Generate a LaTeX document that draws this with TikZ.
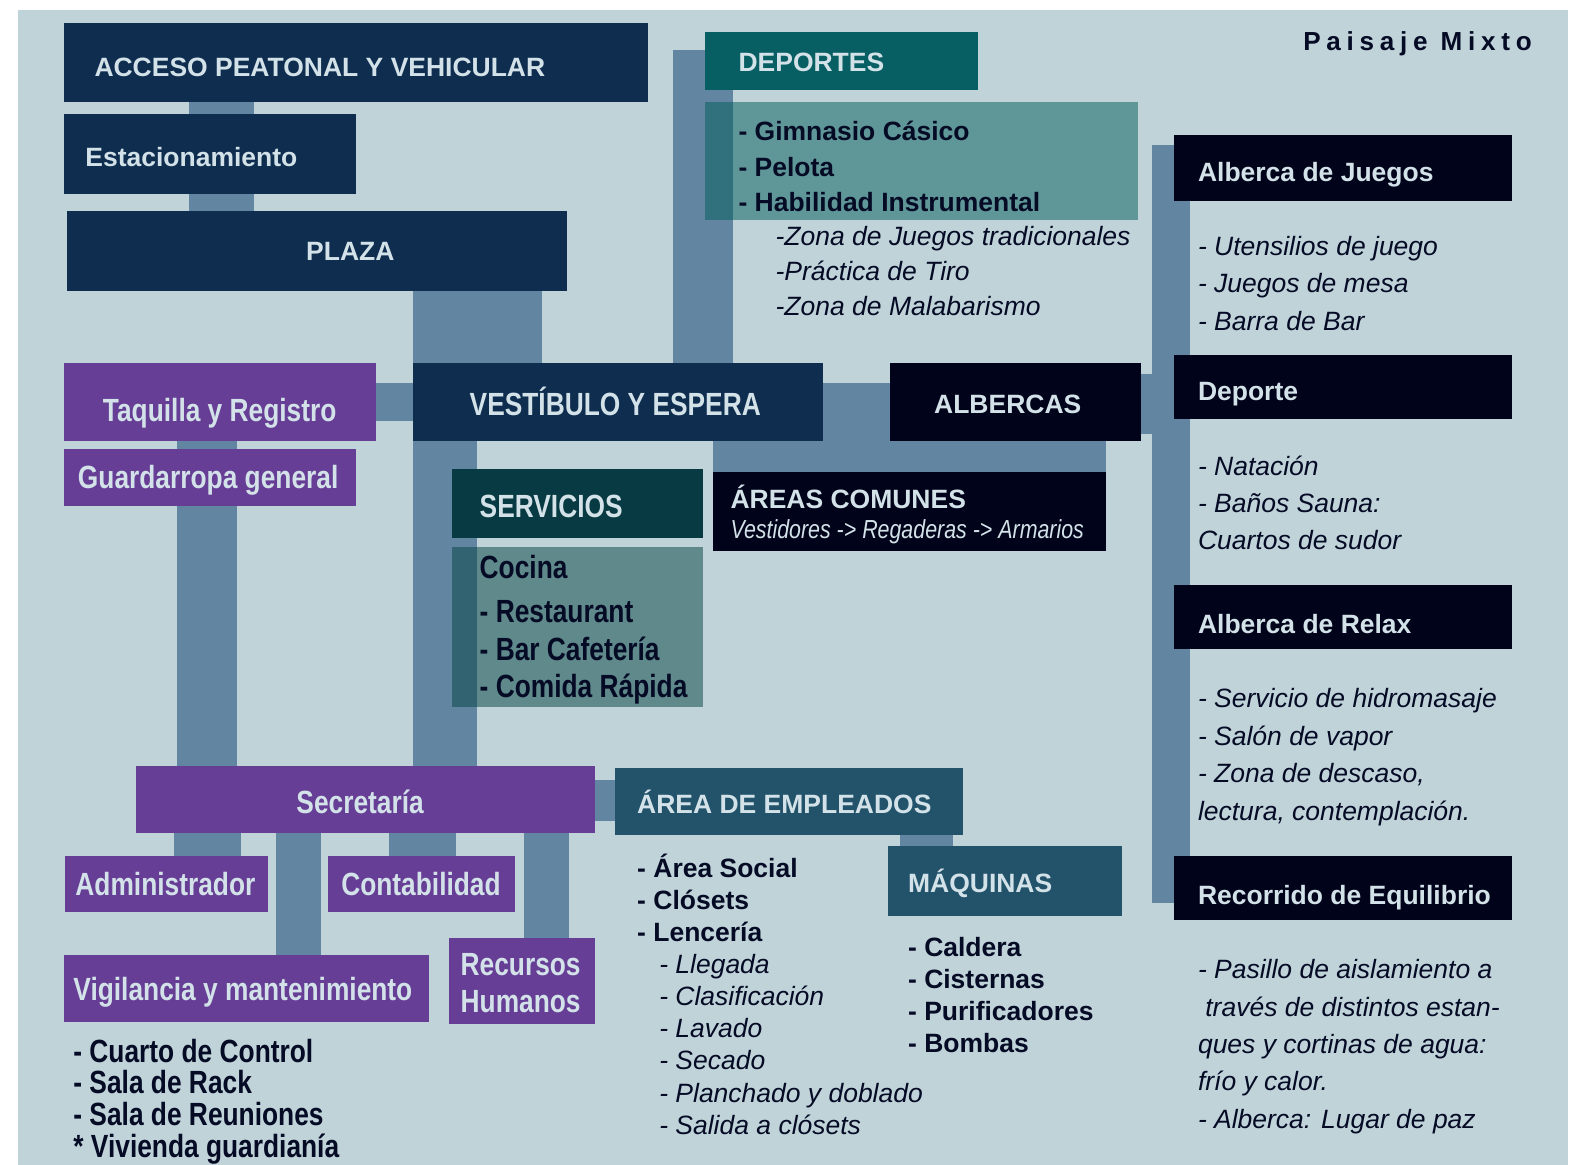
\documentclass[tikz,border=0pt]{standalone}
\usepackage{fontspec}
\setmainfont{Liberation Sans}
\newfontfamily\narrowfam[FakeStretch=0.82]{Liberation Sans}
\newfontfamily\spacedfam[LetterSpace=22]{Liberation Sans}
\usetikzlibrary{calc}
\pgfdeclarelayer{bgfill}
\pgfdeclarelayer{bars}
\pgfsetlayers{bgfill,bars,main}
\definecolor{cBg}{HTML}{BFD3D9}
\definecolor{cBar}{HTML}{6286A2}
\definecolor{cNavy}{HTML}{0E2D4F}
\definecolor{cInk}{HTML}{000319}
\definecolor{cTeal}{HTML}{075E63}
\definecolor{cTealT}{HTML}{005D59}
\definecolor{cServ}{HTML}{073A42}
\definecolor{cServT}{HTML}{01413F}
\definecolor{cPurp}{HTML}{663E96}
\definecolor{cEmp}{HTML}{22536B}
\definecolor{cLight}{HTML}{D3E2E8}
\definecolor{cDark}{HTML}{050A25}
\newcommand\ftTitle{\fontsize{26.4}{30}\selectfont\bfseries}
\newcommand\ftNarrow{\fontsize{32}{36}\selectfont\narrowfam\bfseries}
\newcommand\ftItal{\fontsize{26.4}{30}\selectfont\itshape}
\newcommand\ftSub{\fontsize{26}{30}\selectfont\narrowfam\itshape}
\tikzset{
  boxnode/.style={rectangle, inner sep=0, outer sep=0, draw=none, anchor=north west},
  ltxt/.style={inner sep=0, anchor=base west, text=cLight},
  dtxt/.style={inner sep=0, anchor=base west, text=cDark},
  bar/.style={fill=cBar},
  seethru/.style={fill opacity=0.5, text opacity=1}
}
\begin{document}
\begin{tikzpicture}[x=1pt,y=-1pt]
\useasboundingbox (0,0) rectangle (1568,1161);
% ---------- boxes ----------
\node[boxnode, fill=cNavy, minimum width=582, minimum height=79] (acc) at (64,23) {};
\node[boxnode, fill=cNavy, minimum width=291, minimum height=79] (est) at (64,114) {};
\node[boxnode, fill=cNavy, minimum width=498, minimum height=80] (plaza) at (67,210) {};
\node[boxnode, fill=cNavy, minimum width=408, minimum height=78] (vest) at (412,362) {};
\node[boxnode, fill=cTeal, minimum width=272, minimum height=58] (dep) at (703,32) {};
\node[boxnode, fill=cTealT, seethru, minimum width=431, minimum height=117] (deplist) at (703,102) {};
\node[boxnode, fill=cInk, minimum width=250, minimum height=78] (alb) at (887,362) {};
\node[boxnode, fill=cInk, minimum width=391, minimum height=79] (ac) at (711,470) {};
\node[boxnode, fill=cInk, minimum width=337, minimum height=65] (aj) at (1170,135) {};
\node[boxnode, fill=cInk, minimum width=337, minimum height=64] (dp) at (1170,354) {};
\node[boxnode, fill=cInk, minimum width=337, minimum height=64] (ar) at (1170,583) {};
\node[boxnode, fill=cInk, minimum width=337, minimum height=64] (re) at (1170,853) {};
\node[boxnode, fill=cPurp, minimum width=311, minimum height=78] (taq) at (64,362) {};
\node[boxnode, fill=cPurp, minimum width=291, minimum height=56] (gua) at (64,448) {};
\node[boxnode, fill=cServ, minimum width=250, minimum height=68] (serv) at (451,468) {};
\node[boxnode, fill=cServT, seethru, minimum width=250, minimum height=160] (servlist) at (451,545) {};
\node[boxnode, fill=cPurp, minimum width=457, minimum height=66] (sec) at (136,764) {};
\node[boxnode, fill=cEmp, minimum width=347, minimum height=66] (aemp) at (613,766) {};
\node[boxnode, fill=cEmp, minimum width=233, minimum height=70] (maq) at (885,843) {};
\node[boxnode, fill=cPurp, minimum width=202, minimum height=56] (adm) at (65,853) {};
\node[boxnode, fill=cPurp, minimum width=186, minimum height=56] (cont) at (327,853) {};
\node[boxnode, fill=cPurp, minimum width=364, minimum height=67] (vig) at (64,952) {};
\node[boxnode, fill=cPurp, minimum width=145, minimum height=86] (rh) at (448,935) {};
% ---------- background ----------
\begin{pgfonlayer}{bgfill}
\fill[cBg] (18,10) rectangle (1563,1161);
\end{pgfonlayer}
% ---------- connector bars ----------
\begin{pgfonlayer}{bars}
\fill[bar] (188,0 |- acc.south) rectangle (253,0 |- est.north);
\fill[bar] (188,0 |- est.south) rectangle (253,0 |- plaza.north);
\fill[bar] (412,0 |- plaza.south) rectangle (540,0 |- vest.north);
\fill[bar] ($(dep.north west)+(-32,18)$) rectangle (731,0 |- vest.north);
\fill[bar] (taq.east |- 0,382) rectangle (vest.west |- 0,420);
\fill[bar] (ac.north west) rectangle ($(ac.north east)+(0,-88)$);
\fill[bar] (alb.east |- 0,373) rectangle (1149,433);
\fill[bar] ($(aj.north west)+(-22,10)$) rectangle ($(re.north west)+(16,47)$);
\fill[bar] (176,0 |- taq.south) rectangle (236,0 |- sec.north);
\fill[bar] (412,0 |- vest.south) rectangle (475,0 |- sec.north);
\fill[bar] (sec.east |- 0,778) rectangle (aemp.west |- 0,818);
\fill[bar] (897,0 |- aemp.south) rectangle (950,0 |- maq.north);
\fill[bar] (173,0 |- sec.south) rectangle (240,0 |- adm.north);
\fill[bar] (275,0 |- sec.south) rectangle (320,0 |- vig.north);
\fill[bar] (388,0 |- sec.south) rectangle (455,0 |- cont.north);
\fill[bar] (522,0 |- sec.south) rectangle (567,0 |- rh.north);
\end{pgfonlayer}
% ---------- texts ----------
\node[dtxt, font=\fontsize{26}{30}\selectfont\spacedfam\bfseries] (tpm) at (1299,50) {Paisaje Mixto};
\node[ltxt, font=\ftTitle] (tacc) at (94,76.5) {ACCESO PEATONAL Y VEHICULAR};
\node[ltxt, font=\ftTitle] (test) at (85,166) {Estacionamiento};
\node[ltxt, font=\ftTitle] (tplaza) at (305,259.5) {PLAZA};
\node[ltxt, font=\ftTitle] (tdep) at (736,71.5) {DEPORTES};
\foreach \t [count=\i] in {{- Gimnasio Cásico},{- Pelota},{- Habilidad Instrumental}}
  \node[dtxt, font=\ftTitle] (tdl\i) at (736,140.5+35*\i-35) {\t};
\foreach \t [count=\i] in {{-Zona de Juegos tradicionales},{-Práctica de Tiro},{-Zona de Malabarismo}}
  \node[dtxt, font=\ftItal] (tdi\i) at (773,244.5+35*\i-35) {\t};
\node[ltxt, font=\ftTitle] (taj) at (1194,180.5) {Alberca de Juegos};
\foreach \t [count=\i] in {{- Utensilios de juego},{- Juegos de mesa},{- Barra de Bar}}
  \node[dtxt, font=\ftItal] (taji\i) at (1194,254.5+37.5*\i-37.5) {\t};
\node[ltxt, font=\ftTitle] (tdp) at (1194,399.5) {Deporte};
\foreach \t [count=\i] in {{- Natación},{- Baños Sauna:},{Cuartos de sudor}}
  \node[dtxt, font=\ftItal] (tdpi\i) at (1194,473.5+37*\i-37) {\t};
\node[ltxt, font=\ftTitle] (tar) at (1194,631.5) {Alberca de Relax};
\foreach \t [count=\i] in {{- Servicio de hidromasaje},{- Salón de vapor},{- Zona de descaso,},{lectura, contemplación.}}
  \node[dtxt, font=\ftItal] (tari\i) at (1194,705.5+37.3*\i-37.3) {\t};
\node[ltxt, font=\ftTitle] (tre) at (1194,901.5) {Recorrido de Equilibrio};
\foreach \t [count=\i] in {{- Pasillo de aislamiento a},{\ través de distintos estan-},{ques y cortinas de agua:},{frío y calor.},{- Alberca: Lugar de paz}}
  \node[dtxt, font=\ftItal] (trei\i) at (1194,975.5+37.3*\i-37.3) {\t};
\node[ltxt, font=\ftTitle] (talb) at (931,412.5) {ALBERCAS};
\node[ltxt, font=\ftNarrow] (tvest) at (468,414.5) {VESTÍBULO Y ESPERA};
\node[ltxt, font=\ftTitle] (tac) at (728,506.5) {ÁREAS COMUNES};
\node[ltxt, font=\ftSub] (tacs) at (728,537) {Vestidores -> Regaderas -> Armarios};
\node[ltxt, font=\ftNarrow, anchor=base] (ttaq) at (219,420.5) {Taquilla y Registro};
\node[ltxt, font=\ftNarrow, anchor=base] (tgua) at (207.5,486.5) {Guardarropa general};
\node[ltxt, font=\ftNarrow] (tserv) at (478,515.5) {SERVICIOS};
\node[dtxt, font=\ftNarrow] (tsl1) at (478,576.5) {Cocina};
\foreach \t [count=\i] in {{- Restaurant},{- Bar Cafetería},{- Comida Rápida}}
  \node[dtxt, font=\ftNarrow] (tsl\i b) at (478,620.5+37.5*\i-37.5) {\t};
\node[ltxt, font=\ftNarrow, anchor=base] (tsec) at (359,810.5) {Secretaría};
\node[ltxt, font=\ftNarrow] (tadm) at (75,892.5) {Administrador};
\node[ltxt, font=\ftNarrow] (tcont) at (340,892.5) {Contabilidad};
\node[ltxt, font=\ftNarrow] (tvig) at (73,997.5) {Vigilancia y mantenimiento};
\node[ltxt, font=\ftNarrow] (trh1) at (459,972.5) {Recursos};
\node[ltxt, font=\ftNarrow] (trh2) at (459,1009.5) {Humanos};
\foreach \t [count=\i] in {{- Cuarto de Control},{- Sala de Rack},{- Sala de Reuniones},{* Vivienda guardianía}}
  \node[dtxt, font=\ftNarrow] (tvl\i) at (73,1059+31.5*\i-31.5) {\t};
\node[ltxt, font=\ftTitle] (taemp) at (635,810.5) {ÁREA DE EMPLEADOS};
\node[ltxt, font=\ftTitle] (tmaq) at (905,889.5) {MÁQUINAS};
\foreach \t [count=\i] in {{- Área Social},{- Clósets},{- Lencería}}
  \node[dtxt, font=\ftTitle] (tel\i) at (635,874.5+32*\i-32) {\t};
\foreach \t [count=\i] in {{- Llegada},{- Clasificación},{- Lavado},{- Secado},{- Planchado y doblado},{- Salida a clósets}}
  \node[dtxt, font=\ftItal] (tei\i) at (657,970.5+32*\i-32) {\t};
\foreach \t [count=\i] in {{- Caldera},{- Cisternas},{- Purificadores},{- Bombas}}
  \node[dtxt, font=\ftTitle] (tml\i) at (905,953.5+32*\i-32) {\t};
\end{tikzpicture}
\end{document}
